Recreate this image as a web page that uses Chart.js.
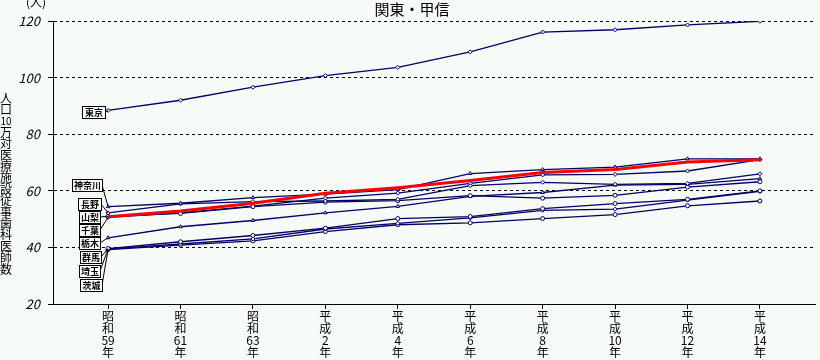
<!DOCTYPE html>
<html>
<head>
<meta charset="utf-8">
<script src="https://cdn.jsdelivr.net/npm/chart.js@4/dist/chart.umd.min.js"></script>
<style>
  html, body { margin: 0; padding: 0; background: #f6fbf8; }
  #wrap { width: 820px; height: 360px; position: relative; }
</style>
</head>
<body>
<div id="wrap"><canvas id="kanto"></canvas></div>
<script>
// year labels (era / number)
var eras = ['昭和', '昭和', '昭和', '平成', '平成', '平成', '平成', '平成', '平成', '平成'];
var nums = ['59', '61', '63', '2', '4', '6', '8', '10', '12', '14'];

// 人口10万対 医療施設従事歯科医師数
var tokyo     = [88.4, 92.0, 96.6, 100.7, 103.6, 109.1, 116.1, 116.9, 118.6, 119.9];
var kanagawa  = [54.4, 55.6, 57.6, 58.8, 60.4, 66.1, 67.5, 68.4, 71.3, 71.3];
var nagano    = [52.2, 55.4, 56.2, 56.4, 57.0, 61.8, 63.0, 62.3, 62.6, 66.0];
var yamanashi = [51.0, 52.0, 54.4, 56.0, 56.5, 58.3, 57.4, 58.4, 61.3, 63.2];
var chiba     = [50.6, 52.2, 54.6, 57.4, 59.2, 62.6, 65.6, 65.8, 67.0, 71.0];
var tochigi   = [43.4, 47.3, 49.5, 52.2, 54.5, 58.0, 59.4, 62.0, 62.3, 64.3];
var gunma     = [39.6, 42.0, 44.2, 46.8, 50.2, 50.9, 53.7, 55.5, 57.0, 60.0];
var saitama   = [39.4, 41.2, 43.0, 46.5, 48.5, 50.4, 53.1, 53.5, 56.7, 59.8];
var ibaraki   = [39.2, 40.8, 42.3, 45.6, 48.0, 48.7, 50.2, 51.6, 54.7, 56.4];
var zenkoku   = [50.8, 52.9, 55.6, 59.1, 61.1, 63.6, 66.5, 67.5, 70.2, 71.0];

var yTicks = [20, 40, 60, 80, 100, 120];

var NAVY = '#000066';
var FONT = '"Noto Sans CJK JP", "Noto Sans", sans-serif';

function pts(arr) {
    return arr.map(function (v, i) { return {x: i, y: v}; });
}
function blue(name, arr, shape) {
    return {
        label: name, data: pts(arr),
        borderColor: NAVY, borderWidth: 1.3,
        pointStyle: shape, pointRadius: 2,
        pointBackgroundColor: '#ffffff', pointBorderColor: NAVY, pointBorderWidth: 1
    };
}

var datasets = [
    {label: '全国', data: pts(zenkoku), borderColor: '#ff0000', borderWidth: 3, pointRadius: 0, order: -1},
    blue('東京', tokyo, 'rectRot'),
    blue('神奈川', kanagawa, 'triangle'),
    blue('長野', nagano, 'rectRot'),
    blue('山梨', yamanashi, 'circle'),
    blue('千葉', chiba, 'rectRot'),
    blue('栃木', tochigi, 'triangle'),
    blue('群馬', gunma, 'circle'),
    blue('埼玉', saitama, 'rectRot'),
    blue('茨城', ibaraki, 'circle')
];

// boxed prefecture names at the left, joined to the first point
var tags = [
    {t: '東京',   x: 82, y: 106, w: 23, ds: 1},
    {t: '神奈川', x: 72, y: 179, w: 30, ds: 2},
    {t: '長野',   x: 78, y: 198, w: 23, ds: 3},
    {t: '山梨',   x: 79, y: 211, w: 21, ds: 4},
    {t: '千葉',   x: 79, y: 224, w: 21, ds: 5},
    {t: '栃木',   x: 79, y: 237, w: 21, ds: 6},
    {t: '群馬',   x: 80, y: 251, w: 21, ds: 7},
    {t: '埼玉',   x: 79, y: 265, w: 21, ds: 8},
    {t: '茨城',   x: 80, y: 279, w: 22, ds: 9}
];

var extras = {
    id: 'extras',
    beforeDraw: function (chart) {
        var c = chart.ctx;
        c.save();
        c.fillStyle = '#f6fbf8';
        c.fillRect(0, 0, chart.width, chart.height);
        c.restore();
    },
    afterDraw: function (chart) {
        var c = chart.ctx, xs = chart.scales.x, ys = chart.scales.y;
        c.save();
        c.fillStyle = '#000';
        c.textAlign = 'center';
        c.textBaseline = 'middle';
        // title
        c.font = '15px ' + FONT;
        c.fillText('関東・甲信', 412, 9);
        // unit
        c.font = '12px ' + FONT;
        c.fillText('(人)', 36, 2);
        // vertical axis title
        var chars = ['人', '口', '10', '万', '対', '医', '療', '施', '設', '従', '事', '歯', '科', '医', '師', '数'];
        chars.forEach(function (ch, i) {
            c.font = (ch === '10' ? '10px ' : '12px ') + FONT;
            c.fillText(ch, 6, 98 + i * 11.4);
        });
        // tags
        c.lineWidth = 1;
        c.strokeStyle = '#000';
        tags.forEach(function (g) {
            var v = datasets[g.ds].data[0];
            var px = xs.getPixelForValue(v.x), py = ys.getPixelForValue(v.y);
            var h = 12;
            c.beginPath();
            c.moveTo(g.x + g.w, g.y + h / 2);
            c.lineTo(px, py);
            c.stroke();
            c.fillStyle = '#ffffff';
            c.fillRect(g.x + 0.5, g.y + 0.5, g.w, h);
            c.strokeRect(g.x + 0.5, g.y + 0.5, g.w, h);
            c.fillStyle = '#000';
            c.font = 'bold 9px ' + FONT;
            c.fillText(g.t, g.x + g.w / 2 + 0.5, g.y + h / 2 + 1);
        });
        c.restore();
    }
};

var ctx = document.getElementById('kanto').getContext('2d');
window.kantoChart = new Chart(ctx, {
    type: 'line',
    data: {datasets: datasets},
    plugins: [extras],
    options: {
        responsive: true,
        maintainAspectRatio: false,
        animation: false,
        layout: {padding: {top: 21, left: 0, right: 0, bottom: 0}},
        plugins: {legend: {display: false}, tooltip: {enabled: false}, title: {display: false}},
        scales: {
            x: {
                type: 'linear',
                min: -0.76, max: 9.76,
                afterBuildTicks: function (s) {
                    s.ticks = nums.map(function (n, i) { return {value: i}; });
                },
                afterFit: function (s) { s.height = 56; },
                grid: {drawOnChartArea: false, drawTicks: true, tickLength: 5, color: '#000'},
                border: {display: true, color: '#000', width: 1},
                ticks: {
                    autoSkip: false, maxRotation: 0, minRotation: 0, padding: 1,
                    color: '#000',
                    font: {family: FONT, size: 12, lineHeight: 1.0},
                    callback: function (v) {
                        var e = eras[v];
                        return [e.charAt(0), e.charAt(1), nums[v], '年'];
                    }
                }
            },
            y: {
                min: 20, max: 120,
                afterBuildTicks: function (s) {
                    s.ticks = yTicks.map(function (v) { return {value: v}; });
                },
                afterFit: function (s) { s.width = 53; },
                grid: {color: '#000', lineWidth: 1, tickLength: 5, drawTicks: true},
                border: {display: true, color: '#000', width: 1, dash: [3, 3]},
                ticks: {
                    padding: 8, color: '#000',
                    font: {family: FONT, size: 13, style: 'italic'}
                }
            }
        }
    }
});
</script>
</body>
</html>
